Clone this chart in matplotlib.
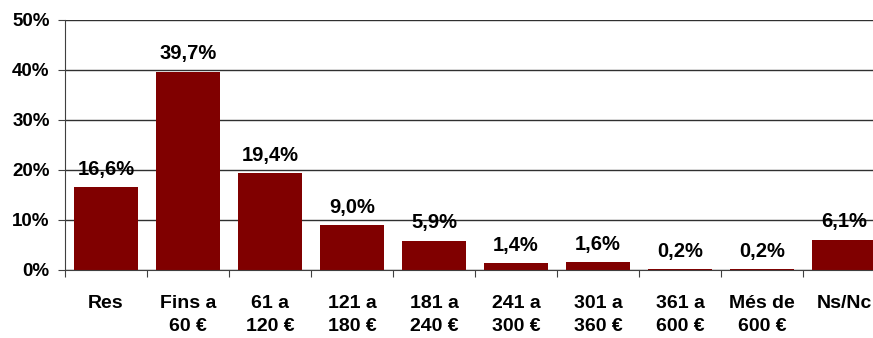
import matplotlib.pyplot as plt
import numpy as np

categories = ["Res", "Fins a\n60 €", "61 a\n120 €", "121 a\n180 €", "181 a\n240 €",
              "241 a\n300 €", "301 a\n360 €", "361 a\n600 €", "Més de\n600 €", "Ns/Nc"]
values = [16.6, 39.7, 19.4, 9.0, 5.9, 1.4, 1.6, 0.2, 0.2, 6.1]
labels = ["16,6%", "39,7%", "19,4%", "9,0%", "5,9%", "1,4%", "1,6%", "0,2%", "0,2%", "6,1%"]
yticks = [0, 10, 20, 30, 40, 50]

plt.rcParams['font.family'] = ['Liberation Sans', 'DejaVu Sans']
plt.rcParams['font.weight'] = 'bold'

fig = plt.figure(figsize=(8.73, 3.38), dpi=100)
ax = fig.add_axes([65 / 873, 68 / 338, 820 / 873, 250 / 338])

x = np.arange(len(values))
ax.bar(x, values, width=0.77, color='#800000', zorder=2)

for xi, v, lab in zip(x, values, labels):
    ax.annotate(lab, (xi, v), xytext=(0, 6), textcoords='offset points',
                ha='center', va='bottom', fontsize=14.5, fontweight='bold', zorder=3)

ax.set_xlim(-0.5, len(values) - 0.5)
ax.set_ylim(0, 50)
ax.set_yticks(yticks)
ax.set_yticklabels([f"{t}%" for t in yticks], fontsize=13.5, fontweight='bold')
ax.yaxis.grid(True, color='#303030', linewidth=1, zorder=0)
ax.set_axisbelow(True)

# boundaries get tick marks, centres get labels
ax.set_xticks(np.arange(len(values) + 1) - 0.5)
ax.set_xticklabels([])
ax.set_xticks(x, minor=True)
ax.set_xticklabels(categories, minor=True, fontsize=14, fontweight='bold', linespacing=1.45)
ax.tick_params(axis='x', which='minor', length=0, pad=18)
ax.tick_params(axis='x', which='major', length=5, direction='out', color='#404040')
ax.tick_params(axis='y', length=5, direction='out', pad=6, color='#404040')

for side in ['top', 'right']:
    ax.spines[side].set_visible(False)
ax.spines['left'].set_color('#404040')
ax.spines['bottom'].set_color('#404040')

fig.savefig('out.png', dpi=100)
